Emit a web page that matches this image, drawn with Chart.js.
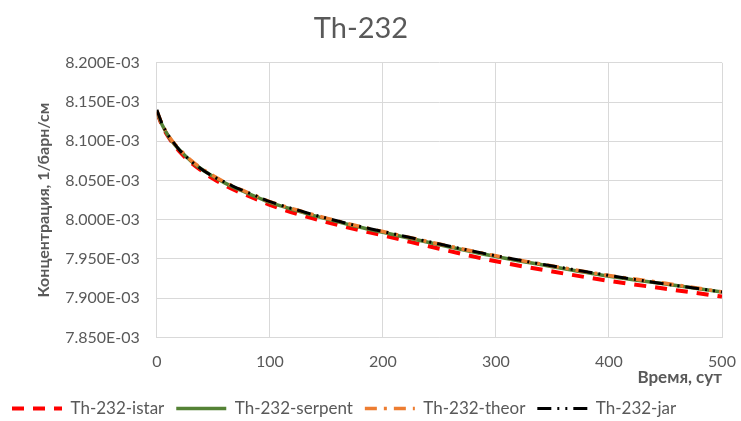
<!DOCTYPE html>
<html>
<head>
<meta charset="utf-8">
<script src="https://cdn.jsdelivr.net/npm/chart.js@4.4.1/dist/chart.umd.min.js"></script>
<style>
  body { margin: 0; background: #fff; }
  #wrap { width: 741px; height: 421px; }
</style>
</head>
<body>
<div id="wrap"><canvas id="th232Chart"></canvas></div>
<script>
// time points, days
const days = [0, 5, 10, 15, 20, 30, 40, 50, 60, 70, 80, 90, 100, 125, 150, 175, 200, 250, 300, 350, 400, 450, 500];

// concentrations in units of 1E-03 1/барн/см
const istar   = [8.137, 8.119, 8.106, 8.096, 8.087, 8.073, 8.062, 8.052, 8.044, 8.037, 8.031, 8.025, 8.019, 8.007, 7.997, 7.988, 7.980, 7.963, 7.947, 7.934, 7.922, 7.912, 7.902];
const serpent = [8.137, 8.120, 8.107, 8.097, 8.089, 8.075, 8.064, 8.055, 8.047, 8.040, 8.034, 8.028, 8.022, 8.011, 8.001, 7.992, 7.984, 7.968, 7.953, 7.940, 7.928, 7.918, 7.908];
const theor   = [8.139, 8.121, 8.108, 8.098, 8.090, 8.076, 8.065, 8.056, 8.048, 8.041, 8.035, 8.029, 8.023, 8.012, 8.002, 7.993, 7.985, 7.969, 7.954, 7.941, 7.929, 7.919, 7.908];
const jar     = [8.140, 8.121, 8.108, 8.098, 8.089, 8.075, 8.064, 8.055, 8.048, 8.041, 8.035, 8.029, 8.023, 8.012, 8.002, 7.993, 7.985, 7.969, 7.954, 7.941, 7.929, 7.918, 7.908];

const seriesNames = ['Th-232-istar', 'Th-232-serpent', 'Th-232-theor', 'Th-232-jar'];
const xTicks = [0, 100, 200, 300, 400, 500];
const yMin = 7.85, yMax = 8.2;

const pts = arr => days.map((d, i) => ({ x: d, y: arr[i] }));

const FONT = 'Lato, "Open Sans", sans-serif';
const GREY = '#595959';

// legend samples keep the dash pattern of their line
function legendLabels(chart) {
  const items = Chart.defaults.plugins.legend.labels.generateLabels(chart);
  return items.map(it => {
    const ds = chart.data.datasets[it.datasetIndex];
    it.lineDash = ds.borderDash || [];
    it.lineWidth = ds.borderWidth;
    it.strokeStyle = ds.borderColor;
    it.lineCap = 'butt';
    return it;
  });
}

const ctx = document.getElementById('th232Chart');
new Chart(ctx, {
  type: 'line',
  data: {
    datasets: [
      { label: seriesNames[0], data: pts(istar), borderColor: '#ff0000', backgroundColor: '#ff0000',
        borderWidth: 4, borderDash: [12, 9], order: 4 },
      { label: seriesNames[1], data: pts(serpent), borderColor: '#548235', backgroundColor: '#548235',
        borderWidth: 3.5, order: 3 },
      { label: seriesNames[2], data: pts(theor), borderColor: '#ed7d31', backgroundColor: '#ed7d31',
        borderWidth: 3.5, borderDash: [12, 7, 3, 7], order: 2 },
      { label: seriesNames[3], data: pts(jar), borderColor: '#000000', backgroundColor: '#000000',
        borderWidth: 3, borderDash: [14, 6, 2, 6, 2, 6], order: 1 }
    ]
  },
  options: {
    responsive: true,
    maintainAspectRatio: false,
    animation: false,
    layout: { padding: { left: 0, right: 19, top: 4, bottom: -6 } },
    elements: {
      point: { radius: 0 },
      line: { tension: 0.3, cubicInterpolationMode: 'monotone', borderCapStyle: 'butt' }
    },
    plugins: {
      title: {
        display: true,
        text: 'Th-232',
        color: GREY,
        font: { family: FONT, size: 29, weight: 'normal' },
        padding: { top: 7, bottom: 17 }
      },
      legend: {
        position: 'bottom',
        align: 'start',
        labels: {
          color: GREY,
          font: { family: FONT, size: 17 },
          usePointStyle: true,
          pointStyle: 'line',
          pointStyleWidth: 50,
          boxWidth: 50,
          boxHeight: 12,
          padding: 12,
          sort: (a, b) => a.datasetIndex - b.datasetIndex,
          generateLabels: legendLabels
        }
      },
      tooltip: { enabled: false }
    },
    scales: {
      x: {
        type: 'linear',
        min: 0,
        max: 500,
        afterBuildTicks: axis => { axis.ticks = xTicks.map(v => ({ value: v })); },
        afterFit: axis => { axis.paddingRight = 0; },
        grid: { color: '#d9d9d9', drawTicks: false },
        border: { color: '#d9d9d9' },
        ticks: { color: GREY, font: { family: FONT, size: 16 }, padding: 15 },
        title: {
          display: true,
          text: 'Время, сут',
          align: 'end',
          color: GREY,
          font: { family: FONT, size: 17, weight: 'bold' },
          padding: { top: -19, bottom: 0 }
        }
      },
      y: {
        min: yMin,
        max: yMax,
        ticks: {
          stepSize: 0.05,
          color: GREY,
          font: { family: FONT, size: 16 },
          padding: 17,
          callback: v => v.toFixed(3) + 'E-03'
        },
        grid: { color: '#d9d9d9', drawTicks: false },
        border: { color: '#d9d9d9' },
        title: {
          display: true,
          text: 'Концентрация, 1/барн/см',
          color: GREY,
          font: { family: FONT, size: 16, weight: 'bold' },
          padding: { top: 34, bottom: -5 }
        }
      }
    }
  }
});
</script>
</body>
</html>
